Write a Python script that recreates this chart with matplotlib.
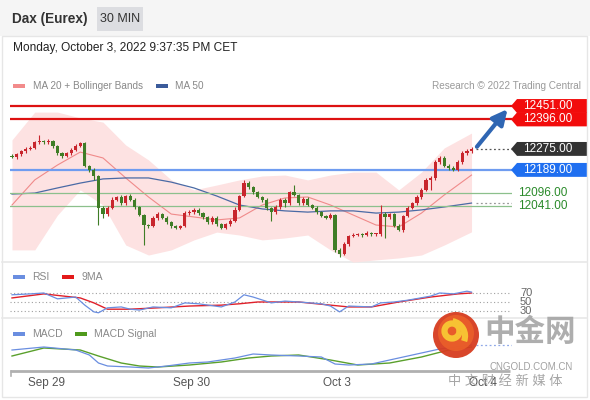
#!/usr/bin/env python3
"""
DAX (Eurex) 30 min chart with Bollinger bands, RSI and MACD panels.
"""

import matplotlib
matplotlib.use('Agg')
import matplotlib.pyplot as plt
import matplotlib.patches as mpatches
import matplotlib.transforms as mtransforms

plt.rcParams['font.family'] = ['Liberation Sans', 'Noto Sans CJK SC', 'DejaVu Sans']

W, H = 590, 400

# --- candles (30 min bars, index 0 = first bar on screen) ---
first_open = 12246
closes = [12242, 12254, 12266, 12275, 12279, 12303, 12307, 12303, 12307, 12287,
          12258, 12246, 12258, 12271, 12287, 12299, 12205, 12189, 12164, 12033,
          12008, 12033, 12066, 12078, 12053, 12082, 12066, 12037, 12004, 11963,
          11959, 11992, 12008, 11992, 11975, 11959, 11951, 11959, 12012, 12016,
          12025, 12012, 11996, 11975, 11992, 11967, 11951, 11967, 11980, 12025,
          12082, 12135, 12119, 12098, 12078, 12066, 12033, 12016, 12037, 12066,
          12053, 12098, 12086, 12053, 12070, 12045, 12033, 12016, 12000, 11992,
          12004, 11861, 11845, 11885, 11918, 11922, 11926, 11922, 11930, 11926,
          11926, 12008, 11996, 12008, 11959, 11943, 12000, 12033, 12053, 12078,
          12107, 12148, 12156, 12221, 12238, 12205, 12197, 12189, 12221, 12258,
          12266, 12275]
upper_wick = [8, 6, 6, 8, 6, 6, 25, 6, 8, 6,
              6, 6, 6, 6, 8, 6, 6, 6, 6, 6,
              6, 6, 10, 6, 8, 6, 8, 6, 6, 6,
              6, 8, 10, 6, 6, 6, 6, 6, 8, 10,
              6, 8, 6, 6, 8, 6, 6, 6, 8, 10,
              6, 12, 8, 6, 6, 6, 6, 5, 8, 6,
              8, 6, 30, 6, 8, 6, 6, 6, 6, 6,
              10, 6, 6, 8, 6, 8, 6, 6, 8, 6,
              6, 37, 8, 6, 6, 8, 6, 6, 6, 8,
              6, 8, 6, 8, 10, 8, 8, 6, 8, 8,
              8, 6]
lower_wick = [6, 8, 6, 6, 6, 6, 6, 6, 6, 8,
              6, 8, 6, 6, 6, 6, 6, 8, 16, 70,
              15, 8, 6, 6, 8, 6, 6, 8, 6, 82,
              10, 6, 8, 6, 6, 8, 6, 6, 6, 6,
              8, 6, 8, 6, 6, 8, 6, 6, 6, 6,
              6, 6, 8, 6, 6, 8, 10, 35, 6, 8,
              16, 6, 6, 8, 6, 6, 6, 8, 6, 6,
              6, 8, 15, 6, 8, 6, 6, 8, 6, 6,
              6, 6, 86, 8, 6, 6, 8, 6, 6, 6,
              8, 6, 41, 8, 6, 6, 8, 6, 6, 8,
              6, 6]

# --- moving averages / Bollinger bands, read every 5 bars ---
ma_idx = [0, 5, 10, 15, 20, 25, 30, 35, 40, 45, 50,
          55, 60, 65, 70, 75, 80, 85, 90, 95, 101]
ma20 = [12045, 12148, 12209, 12262, 12238, 12156, 12078, 12008, 11996, 11984, 11992,
        12045, 12074, 12078, 12045, 12004, 11963, 11955, 12012, 12086, 12168]
bb_upper = [12312, 12426, 12426, 12402, 12385, 12291, 12230, 12148, 12107, 12127, 12148,
            12164, 12168, 12148, 12168, 12180, 12180, 12107, 12180, 12279, 12340]
bb_lower = [11861, 11861, 12004, 12107, 12045, 11881, 11840, 11861, 11902, 11934, 11922,
            11902, 11910, 11922, 11861, 11811, 11820, 11828, 11840, 11881, 11935]
ma50 = [12090, 12094, 12115, 12135, 12152, 12156, 12156, 12139, 12115, 12082, 12045,
        12029, 12021, 12016, 12021, 12021, 12012, 12016, 12025, 12037, 12053]

# --- key levels ---
resistances = [12451, 12396]
pivot = 12189
supports = [12096, 12041]
last_price = 12275

# --- RSI panel ---
rsi_idx = [0, 4, 7, 10, 14, 16, 18, 19, 21, 24, 26, 28, 31, 35, 38, 41, 46, 49,
           51, 53, 57, 60, 63, 68, 70, 72, 74, 79, 81, 84, 87, 92, 94, 97, 100, 101]
rsi_vals = [66, 68, 70, 57, 61, 43, 28, 26, 37, 39, 34, 32, 39, 37, 48, 46, 39, 50,
            66, 61, 48, 52, 50, 46, 41, 28, 41, 39, 48, 50, 54, 63, 70, 68, 74, 72]
rsi_ma_idx = [0, 7, 15, 18, 21, 26, 32, 39, 46, 50, 54, 63, 70, 74, 79, 85, 92, 98, 101]
rsi_ma_vals = [59, 68, 59, 48, 34, 34, 37, 41, 43, 46, 50, 50, 43, 39, 39, 50, 61, 68, 70]
rsi_levels = [70, 50, 30]

# --- MACD panel ---
macd_idx = [0, 7, 14, 17, 19, 21, 26, 30, 34, 39, 43, 49, 53, 57, 63, 68,
            71, 74, 79, 82, 85, 90, 94, 101]
macd_vals = [18, 27, 18, 3, -21, -30, -33, -36, -30, -21, -18, -6, 6, 3, 0, -3,
             -24, -27, -24, -15, -6, 9, 21, 33]
signal_idx = [0, 7, 15, 19, 24, 28, 32, 39, 46, 52, 57, 63, 70, 76, 83, 90, 96, 101]
signal_vals = [0, 24, 18, 0, -21, -30, -33, -27, -18, -6, 0, 3, -12, -27, -21, -3, 18, 27]

date_ticks = [7.5, 39.5, 71.5, 103.5]
date_labels = ['Sep 29', 'Sep 30', 'Oct 3', 'Oct 4']

XMIN, XMAX = -0.44, 109.9
RED, GREEN = '#c8262d', '#3f7d26'


def px_axes(fig, left, top, right, bottom, **kw):
    """Add axes placed by pixel box (origin top-left)."""
    return fig.add_axes([left / W, 1 - bottom / H, (right - left) / W, (bottom - top) / H], **kw)


def clean(ax):
    ax.set_xlim(XMIN, XMAX)
    ax.patch.set_alpha(0)
    for s in ax.spines.values():
        s.set_visible(False)
    ax.set_xticks([])
    ax.set_yticks([])


def price_tag(ax, price, face, txt_color='white'):
    tr = mtransforms.blended_transform_factory(ax.transAxes, ax.transData)
    half = 28.5
    pts = [(0.998, price), (1.01, price + half), (1.149, price + half),
           (1.149, price - half), (1.01, price - half)]
    ax.add_patch(mpatches.Polygon(pts, closed=True, facecolor=face, edgecolor='none',
                                  transform=tr, clip_on=False, zorder=6))
    ax.text(1.022, price, f'{price:.2f}', color=txt_color, fontsize=8.5,
            va='center', ha='left', transform=tr, clip_on=False, zorder=7)


fig = plt.figure(figsize=(W / 100, H / 100), dpi=100)
fig.patch.set_facecolor('white')

# background / frame drawn in pixel space
bg = fig.add_axes([0, 0, 1, 1], zorder=-5)
bg.set_xlim(0, W)
bg.set_ylim(H, 0)
bg.axis('off')
bg.add_patch(mpatches.Rectangle((0, 0), W, 36, facecolor='#f5f5f5', edgecolor='none'))
bg.add_patch(mpatches.Rectangle((2, 36), 585, 361, facecolor='white', edgecolor='#e6e6e6', lw=1))
bg.add_patch(mpatches.Rectangle((97, 7), 46, 24, facecolor='#dcdde1', edgecolor='none'))
bg.plot([2, 587], [262, 262], color='#e8e8e8', lw=1.2)
bg.plot([2, 587], [318, 318], color='#e8e8e8', lw=1.2)
bg.text(12, 19, 'Dax (Eurex)', fontsize=9.8, fontweight='bold', color='#333333', va='center')
bg.text(120, 19, '30 MIN', fontsize=9, color='#333333', va='center', ha='center')
bg.text(13, 48, 'Monday, October 3, 2022 9:37:35 PM CET', fontsize=8.6, color='#222222', va='center')

# legends
bg.add_patch(mpatches.Rectangle((13, 84), 12, 4, facecolor='#f28b8b', edgecolor='none'))
bg.text(33, 86, 'MA 20 + Bollinger Bands', fontsize=7.2, color='#888888', va='center')
bg.add_patch(mpatches.Rectangle((156, 84), 12, 4, facecolor='#3b5b9b', edgecolor='none'))
bg.text(175, 86, 'MA 50', fontsize=7.2, color='#888888', va='center')
bg.text(581, 86, 'Research © 2022 Trading Central', fontsize=7.2, color='#9a9a9a',
        va='center', ha='right')
bg.add_patch(mpatches.Rectangle((13, 275), 12, 4, facecolor='#6a8ee0', edgecolor='none'))
bg.text(32, 277, 'RSI', fontsize=7.5, color='#888888', va='center')
bg.add_patch(mpatches.Rectangle((62, 275), 12, 4, facecolor='#e31a1a', edgecolor='none'))
bg.text(82, 277, '9MA', fontsize=7.5, color='#888888', va='center')
bg.add_patch(mpatches.Rectangle((13, 332), 12, 4, facecolor='#6a8ee0', edgecolor='none'))
bg.text(32, 334, 'MACD', fontsize=7.5, color='#888888', va='center')
bg.add_patch(mpatches.Rectangle((75, 332), 12, 4, facecolor='#4f9a1c', edgecolor='none'))
bg.text(94, 334, 'MACD Signal', fontsize=7.5, color='#888888', va='center')

# x axis line
bg.plot([10, 510], [371, 371], color='#b0b0b0', lw=2, solid_capstyle='butt')
bg.plot([11, 11], [371, 376], color='#b0b0b0', lw=1.2)

# ---------------- main price panel ----------------
ax = px_axes(fig, 10, 95, 512, 262)
clean(ax)
ax.set_ylim(11811.4, 12496.1)

ax.fill_between(ma_idx, bb_lower, bb_upper, color='#fde2e2', lw=0, zorder=0)
ax.plot(ma_idx, ma20, color='#f08a8a', lw=0.8, zorder=1)
ax.plot(ma_idx, ma50, color='#4a6aa5', lw=0.9, zorder=1)

for y in resistances:
    ax.axhline(y, color='#dd1111', lw=1.6, zorder=2)
ax.axhline(pivot, color='#6f9cf0', lw=1.6, zorder=2)
for y in supports:
    ax.axhline(y, color='#8cc08c', lw=0.9, zorder=2)

opens = [first_open] + closes[:-1]
for i, (o, c) in enumerate(zip(opens, closes)):
    col = RED if c >= o else GREEN
    hi = max(o, c) + upper_wick[i]
    lo = min(o, c) - lower_wick[i]
    ax.vlines(i, lo, hi, color=col, lw=0.8, zorder=3)
    ax.bar(i, max(abs(c - o), 3), bottom=min(o, c), width=0.7, color=col, lw=0, zorder=4)

n = len(closes)
ax.plot([n, XMAX], [last_price, last_price], color='#555555', lw=0.9, ls=(0, (1.5, 2)), zorder=2)
ax.plot([n, XMAX], [ma50[-1], ma50[-1]], color='#999999', lw=0.9, ls=(0, (1.5, 2)), zorder=2)

ax.annotate('', xy=(109.3, 12447), xytext=(n - 0.2, last_price),
            arrowprops=dict(arrowstyle='-|>,head_length=0.9,head_width=0.45',
                            color='#2f66b3', lw=3), annotation_clip=False, zorder=8)

for y in resistances:
    price_tag(ax, y, '#f20c0c')
price_tag(ax, last_price, '#333333')
price_tag(ax, pivot, '#1f6ff0')
tr = mtransforms.blended_transform_factory(ax.transAxes, ax.transData)
for y in supports:
    ax.text(1.012, y, f'{y:.2f}', color='#2a8a2a', fontsize=8.5, va='center',
            transform=tr, clip_on=False)

# ---------------- RSI panel ----------------
ax_rsi = px_axes(fig, 10, 262, 512, 318)
clean(ax_rsi)
ax_rsi.set_ylim(14.4, 138.9)
for lv in rsi_levels:
    ax_rsi.plot([XMIN, 109.4], [lv, lv], color='#a0a0a0', lw=0.8, ls=(0, (1, 2.2)))
ax_rsi.plot(rsi_ma_idx, rsi_ma_vals, color='#e0202a', lw=1.0)
ax_rsi.plot(rsi_idx, rsi_vals, color='#6a8ee0', lw=0.9)
tr_r = mtransforms.blended_transform_factory(ax_rsi.transAxes, ax_rsi.transData)
for lv in rsi_levels:
    ax_rsi.text(1.016, lv, str(lv), color='#666666', fontsize=8, va='center',
                transform=tr_r, clip_on=False)

# ---------------- MACD panel ----------------
ax_macd = px_axes(fig, 10, 318, 512, 371)
clean(ax_macd)
ax_macd.set_ylim(-45, 114)
ax_macd.plot(signal_idx, signal_vals, color='#5aa02c', lw=1.0)
ax_macd.plot(macd_idx, macd_vals, color='#6a8ee0', lw=0.9)
ax_macd.plot([n, XMAX], [macd_vals[-1], macd_vals[-1]], color='#8fa8e8', lw=0.9, ls=(0, (1.5, 2)))
tr_d = mtransforms.blended_transform_factory(ax_macd.transData, ax_macd.transAxes)
for t, lab in zip(date_ticks, date_labels):
    ax_macd.text(t, -0.23, lab, fontsize=8.5, color='#555555', ha='center', va='center',
                 transform=tr_d, clip_on=False)

# ---------------- watermark ----------------
ov = fig.add_axes([0, 0, 1, 1], zorder=20)
ov.set_xlim(0, W)
ov.set_ylim(H, 0)
ov.axis('off')
ov.patch.set_alpha(0)
ov.add_patch(mpatches.Circle((456, 335), 23, facecolor='#d63c1f', edgecolor='none', alpha=0.95))
ov.add_patch(mpatches.Circle((456, 333), 18, facecolor='#ea5f2a', edgecolor='none', alpha=0.9))
ov.add_patch(mpatches.Arc((452, 331), 15, 15, theta1=0, theta2=360, color='#f7c233', lw=4.5))
ov.add_patch(mpatches.Arc((450, 336), 30, 30, theta1=-80, theta2=20, color='#f7c233', lw=4.5))
ov.text(530, 333, '中金网', fontsize=22, fontweight='bold', color='#a0a0a0', alpha=0.85,
        ha='center', va='center')
ov.text(531, 367, 'CNGOLD.COM.CN', fontsize=7, color='#a0a0a0', ha='center', va='center')
ov.text(505, 382, '中 文 财 经 新 媒 体', fontsize=9.5, color='#a5a5a5', ha='center', va='center')

fig.savefig('out.png', dpi=100)
